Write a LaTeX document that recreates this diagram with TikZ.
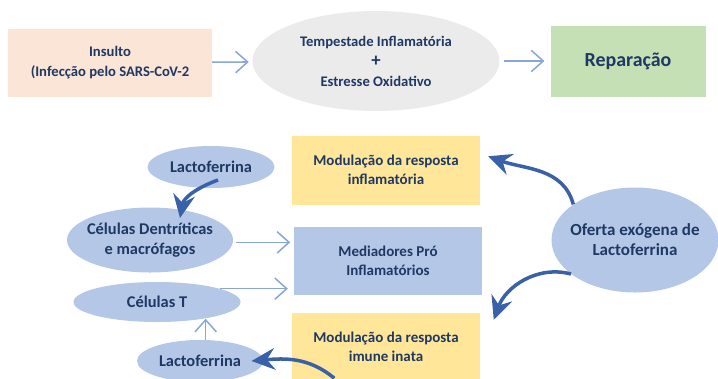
\documentclass[tikz,border=0pt]{standalone}
\usepackage{fontspec}
\setmainfont{Carlito}
\usetikzlibrary{shapes.geometric,arrows.meta}
\definecolor{navy}{HTML}{1F3864}
\definecolor{peach}{HTML}{FBE5D6}
\definecolor{mistgray}{HTML}{EBEBEB}
\definecolor{sage}{HTML}{C5E0B4}
\definecolor{butter}{HTML}{FFE699}
\definecolor{paleblue}{HTML}{B4C7E7}
\definecolor{linkblue}{HTML}{8AA6D8}
\definecolor{inkblue}{HTML}{3A60A8}

\begin{document}
\begin{tikzpicture}[x=0.03cm,y=-0.03cm,
  every node/.style={text=navy,font=\bfseries\fontsize{12.5}{17}\selectfont,align=center,inner sep=0pt},
  panel/.style={rectangle,fill=#1},
  blob/.style={ellipse,fill=#1,inner xsep=-6pt,font=\bfseries\fontsize{14}{17}\selectfont},
  thinlink/.style={draw=linkblue,line width=1.3pt,-{Straight Barb[length=3.6mm,width=6.4mm]}},
  heavylink/.style={draw=inkblue,line width=3pt,-{Stealth[length=7mm,width=6.5mm,inset=2.4mm]}}]
\clip (0,0) rectangle (718,378);

\node[panel=peach,minimum width=6.12cm,minimum height=2.04cm] (insulto) at (110,63) {Insulto\\(Infecção pelo SARS-CoV-2};
\node[blob=mistgray,minimum width=7.41cm,minimum height=3cm,font=\bfseries\fontsize{12.5}{17}\selectfont] (tempest) at (376,61) {Tempestade Inflamatória\\{\fontsize{16}{17}\selectfont +}\\Estresse Oxidativo};
\node[panel=sage,minimum width=4.65cm,minimum height=2.13cm,font=\bfseries\fontsize{17}{17}\selectfont] (repar) at (628,61) {Reparação};

\node[panel=butter,minimum width=5.64cm,minimum height=2.07cm,font=\bfseries\fontsize{12.8}{16.5}\selectfont] (mod1) at (386,170) {Modulação da resposta\\inflamatória};
\node[panel=paleblue,minimum width=5.64cm,minimum height=2.04cm,font=\bfseries\fontsize{12.8}{16.5}\selectfont] (medi) at (388,261) {Mediadores Pró\\Inflamatórios};
\node[panel=butter,minimum width=5.61cm,minimum height=2.04cm,font=\bfseries\fontsize{12.8}{16.5}\selectfont] (mod2) at (386,347) {Modulação da resposta\\imune inata};

\node[blob=paleblue,minimum width=3.81cm,minimum height=1.26cm] (lacto1) at (211,167) {Lactoferrina};
\node[blob=paleblue,minimum width=4.98cm,minimum height=1.95cm] (celden) at (150,240) {Células Dentríticas\\e macrófagos};
\node[blob=paleblue,minimum width=5.01cm,minimum height=1.2cm] (celt) at (157,302) {Células T};
\node[blob=paleblue,minimum width=3.78cm,minimum height=1.26cm] (lacto2) at (200,361) {Lactoferrina};
\node[blob=paleblue,minimum width=5.01cm,minimum height=3.15cm,font=\bfseries\fontsize{14.5}{17}\selectfont] (oferta) at (635,240) {Oferta exógena de\\Lactoferrina};

\draw[thinlink,shorten >=3pt] (insulto) -- (tempest);
\draw[thinlink,shorten <=4pt,shorten >=5pt] (tempest) -- (repar);
\draw[thinlink,shorten <=2pt,shorten >=3pt] ([yshift=-2pt]celden.east) -- ([yshift=-2pt]celden.east -| medi.west);
\draw[thinlink,shorten >=5pt] (celt.12) -- (celt.12 -| medi.west);
\draw[thinlink] (lacto2.75) -- ([yshift=3pt]lacto2.75 |- celt.south);

\draw[heavylink] ([shift={(7,13)}]lacto1.center) to[out=200,in=80] ([shift={(30,-22)}]celden.center);
\draw[heavylink] (oferta.150) to[out=105,in=-20] ([shift={(8,21)}]mod1.north east);
\draw[heavylink] (oferta.208) to[out=165,in=70] ([shift={(14,7)}]mod2.north east);
\draw[heavylink] ([shift={(42,-3)}]mod2.south west) to[out=140,in=5] ([xshift=-10pt]lacto2.east);
\end{tikzpicture}
\end{document}
